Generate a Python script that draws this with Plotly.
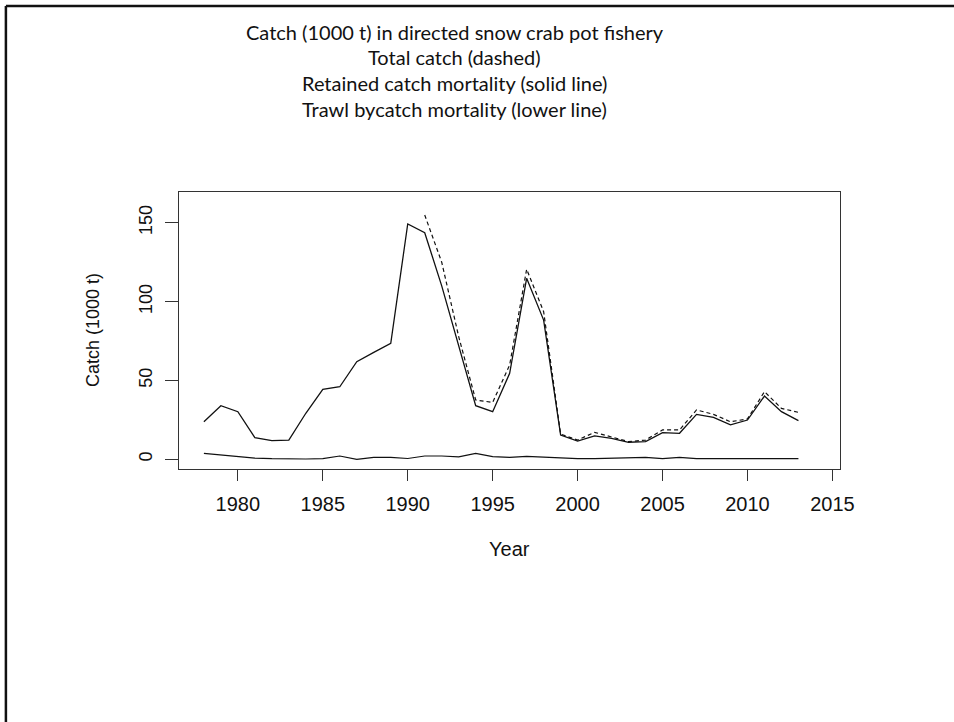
import plotly.graph_objects as go

W, H = 954, 722

years = list(range(1978, 2014))

# Retained catch mortality (1000 t), 1978-2013
retained = [23.8, 34.0, 30.2, 13.7, 11.8, 12.2, 29.2, 44.4, 46.0, 61.9,
            67.8, 73.5, 149.2, 143.7, 110.0, 72.0, 34.0, 30.2, 54.5, 114.8,
            88.3, 15.4, 11.6, 14.8, 13.3, 10.8, 11.2, 16.9, 16.5, 28.5,
            26.6, 21.8, 24.9, 40.1, 30.2, 24.5]

# Total catch (1000 t), available from 1991
total_years = list(range(1991, 2014))
total = [154.9, 125.0, 77.8, 37.6, 36.1, 59.8, 120.5, 93.6, 16.0, 12.2,
         17.1, 14.3, 11.2, 12.2, 18.6, 18.6, 31.3, 28.5, 23.8, 25.6,
         42.9, 32.3, 29.8]

# Trawl bycatch mortality (1000 t), 1978-2013
bycatch = [3.8, 2.7, 1.7, 0.8, 0.4, 0.2, 0.2, 0.4, 2.1, 0.0,
           1.2, 1.2, 0.5, 2.1, 2.1, 1.5, 3.8, 1.7, 1.2, 1.9,
           1.3, 0.8, 0.4, 0.4, 0.8, 1.2, 1.2, 0.4, 1.2, 0.4,
           0.4, 0.4, 0.4, 0.4, 0.4, 0.4]

x_ticks = [1980, 1985, 1990, 1995, 2000, 2005, 2010, 2015]
y_ticks = [0, 50, 100, 150]

title_lines = [
    "Catch (1000 t) in directed snow crab pot fishery",
    "Total catch (dashed)",
    "Retained catch mortality (solid line)",
    "Trawl bycatch mortality (lower line)",
]

# plot box in page pixels
L, R, T, B = 182.3, 853.3, 191.7, 469.3

fig = go.Figure()
fig.add_trace(go.Scatter(x=years, y=retained, mode="lines",
                         line=dict(color="#111111", width=1.3)))
fig.add_trace(go.Scatter(x=total_years, y=total, mode="lines",
                         line=dict(color="#111111", width=1.2, dash="4px,3px")))
fig.add_trace(go.Scatter(x=years, y=bycatch, mode="lines",
                         line=dict(color="#111111", width=1.2)))

rfont = "Liberation Sans, Arial, sans-serif"

fig.update_layout(
    width=W, height=H,
    margin=dict(l=0, r=0, t=0, b=0),
    paper_bgcolor="white", plot_bgcolor="white",
    showlegend=False,
    xaxis=dict(
        domain=[L / W, R / W],
        range=[1976.56, 2015.44],
        tickvals=x_ticks, ticktext=[str(v) for v in x_ticks],
        ticks="outside", ticklen=11, tickwidth=1, tickcolor="#333333",
        showline=True, linecolor="#333333", linewidth=1, mirror=True,
        showgrid=False, zeroline=False,
        tickfont=dict(family=rfont, size=20, color="#111111"),
        ticklabelstandoff=6,
    ),
    yaxis=dict(
        domain=[1 - B / H, 1 - T / H],
        range=[-6.34, 169.7],
        tickvals=y_ticks, ticktext=[str(v) for v in y_ticks],
        tickangle=-90,
        ticks="outside", ticklen=13, tickwidth=1, tickcolor="#333333",
        showline=True, linecolor="#333333", linewidth=1, mirror=True,
        showgrid=False, zeroline=False,
        tickfont=dict(family=rfont, size=18, color="#111111"),
        ticklabelstandoff=6,
    ),
)

# axis titles
fig.add_annotation(x=518 / W, y=1 - 549 / H, xref="paper", yref="paper",
                   text="Year", showarrow=False,
                   font=dict(family=rfont, size=20, color="#111111"),
                   xanchor="center", yanchor="middle")
fig.add_annotation(x=94 / W, y=1 - (T + B) / 2 / H, xref="paper", yref="paper",
                   text="Catch (1000 t)", showarrow=False, textangle=-90,
                   font=dict(family=rfont, size=18, color="#111111"),
                   xanchor="center", yanchor="middle")

# title block
for i, line in enumerate(title_lines):
    fig.add_annotation(x=462 / W, y=1 - (32 + 25.5 * i) / H, xref="paper", yref="paper",
                       text=line, showarrow=False,
                       font=dict(family="Lato, Open Sans, sans-serif", size=20, color="#111111"),
                       xanchor="center", yanchor="middle")

# slide frame along the top and left edges
fig.add_shape(type="line", xref="paper", yref="paper",
              x0=6 / W, x1=1.02, y0=1 - 6 / H, y1=1 - 6 / H,
              line=dict(color="#111111", width=2.5))
fig.add_shape(type="line", xref="paper", yref="paper",
              x0=6 / W, x1=6 / W, y0=-0.02, y1=1 - 6 / H,
              line=dict(color="#111111", width=2.5))

fig.write_html(
    "out.html",
    post_script="document.body.style.margin='0';"
                "document.documentElement.style.overflow='hidden';",
)
